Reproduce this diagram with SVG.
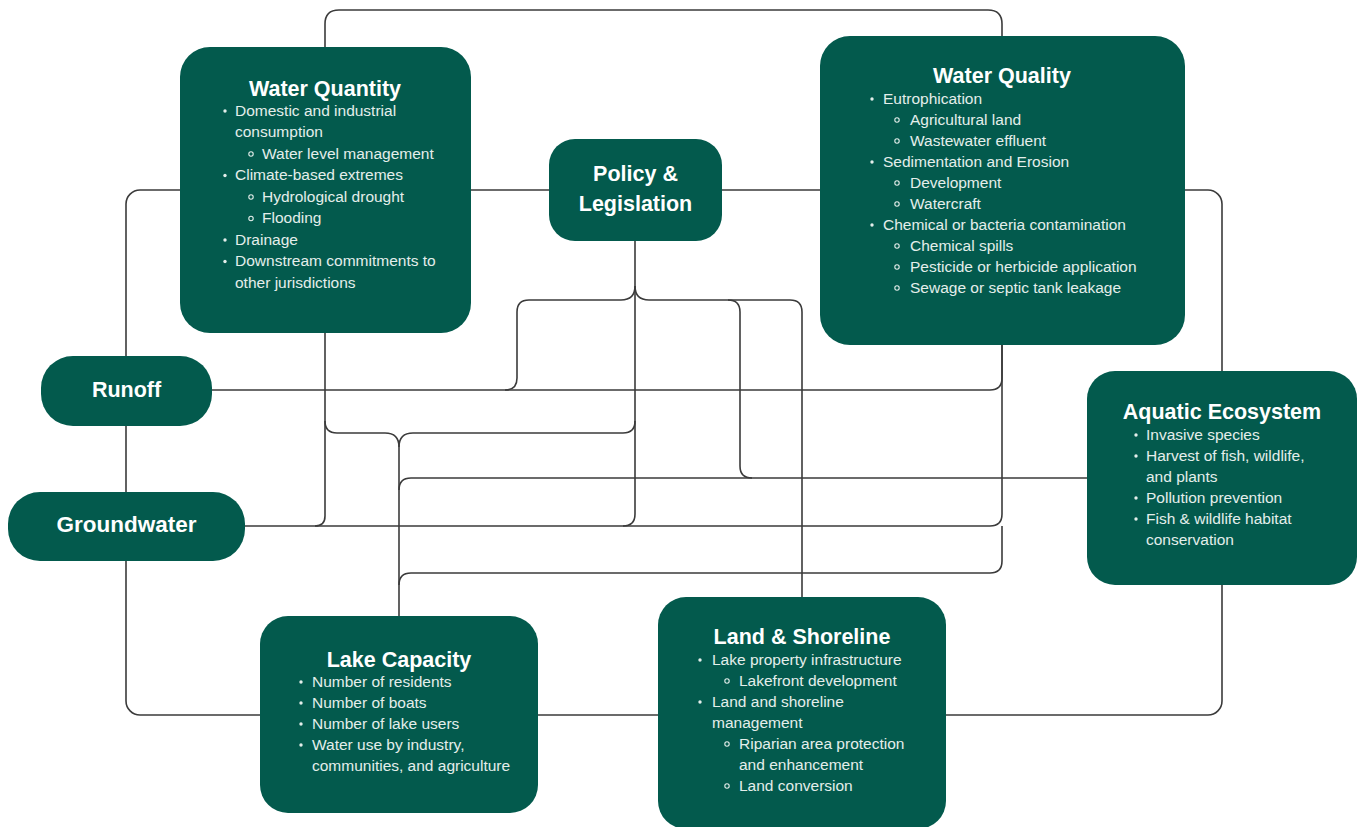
<svg xmlns="http://www.w3.org/2000/svg" width="1359" height="827" viewBox="0 0 1359 827">
  <style>
    .link { fill: none; stroke: #3b3b3b; stroke-width: 1.6; }
    .box { fill: #035a4d; }
    .title { font-family: "Liberation Sans", Arial, sans-serif; font-weight: bold; font-size: 21.5px; fill: #ffffff; text-anchor: middle; }
    .item { font-family: "Liberation Sans", Arial, sans-serif; font-size: 15.5px; fill: #e4eeeb; }
    .dot { fill: #e4eeeb; }
    .ring { fill: none; stroke: #e4eeeb; stroke-width: 1.1; }
  </style>

  <g id="connectors">
    <!-- outer loop: Water Quantity / Policy / Water Quality / Aquatic / Land / Lake / Groundwater / Runoff -->
    <rect class="link" x="126" y="190" width="1096" height="525" rx="14"/>
    <!-- Water Quantity to Water Quality over the top -->
    <path class="link" d="M325,47 V24 Q325,10 339,10 H988 Q1002,10 1002,24 V36"/>
    <!-- Runoff to Water Quality -->
    <path class="link" d="M212,390 H990 Q1002,390 1002,378 V345"/>
    <!-- Groundwater to Water Quality, with taps to Water Quantity and Policy -->
    <path class="link" d="M245,526 H990 Q1002,526 1002,514 V345"/>
    <path class="link" d="M315,526 Q325,526 325,516 V333"/>
    <path class="link" d="M635,241 V514 Q635,526 623,526"/>
    <!-- Policy branches -->
    <path class="link" d="M635,286 Q635,300 621,300 H529 Q517,300 517,312 V378 Q517,390 505,390"/>
    <path class="link" d="M635,286 Q635,300 649,300 H790 Q802,300 802,312 V597"/>
    <path class="link" d="M728,300 Q740,300 740,312 V466 Q740,478 752,478"/>
    <!-- Lake Capacity branches -->
    <path class="link" d="M399,616 V447"/>
    <path class="link" d="M399,447 Q399,433 385,433 H337 Q325,433 325,421"/>
    <path class="link" d="M399,447 Q399,433 413,433 H623 Q635,433 635,421"/>
    <path class="link" d="M399,490 Q399,478 411,478 H1088"/>
    <path class="link" d="M399,585 Q399,573 411,573 H990 Q1002,573 1002,561 V526"/>
  </g>

  <g id="water-quantity">
    <rect class="box" x="180" y="47" width="291" height="286" rx="30"/>
    <text class="title" x="325" y="95.5">Water Quantity</text>
    <circle class="dot" cx="225" cy="111" r="1.7"/>
    <text class="item" x="235" y="115.5">Domestic and industrial</text>
    <text class="item" x="235" y="137">consumption</text>
    <circle class="ring" cx="251" cy="154" r="2.2"/>
    <text class="item" x="262" y="158.5">Water level management</text>
    <circle class="dot" cx="225" cy="175.5" r="1.7"/>
    <text class="item" x="235" y="180">Climate-based extremes</text>
    <circle class="ring" cx="251" cy="197" r="2.2"/>
    <text class="item" x="262" y="201.5">Hydrological drought</text>
    <circle class="ring" cx="251" cy="218.5" r="2.2"/>
    <text class="item" x="262" y="223">Flooding</text>
    <circle class="dot" cx="225" cy="240" r="1.7"/>
    <text class="item" x="235" y="244.5">Drainage</text>
    <circle class="dot" cx="225" cy="261.5" r="1.7"/>
    <text class="item" x="235" y="266">Downstream commitments to</text>
    <text class="item" x="235" y="287.5">other jurisdictions</text>
  </g>

  <g id="policy-legislation">
    <rect class="box" x="549" y="139" width="173" height="102" rx="26"/>
    <text class="title" x="635.5" y="180.5">Policy &amp;</text>
    <text class="title" x="635.5" y="210.5">Legislation</text>
  </g>

  <g id="water-quality">
    <rect class="box" x="820" y="36" width="365" height="309" rx="30"/>
    <text class="title" x="1002" y="82.5">Water Quality</text>
    <circle class="dot" cx="872" cy="99" r="1.7"/>
    <text class="item" x="883" y="103.5">Eutrophication</text>
    <circle class="ring" cx="897" cy="120" r="2.2"/>
    <text class="item" x="910" y="124.5">Agricultural land</text>
    <circle class="ring" cx="897" cy="141" r="2.2"/>
    <text class="item" x="910" y="145.5">Wastewater effluent</text>
    <circle class="dot" cx="872" cy="162" r="1.7"/>
    <text class="item" x="883" y="166.5">Sedimentation and Erosion</text>
    <circle class="ring" cx="897" cy="183" r="2.2"/>
    <text class="item" x="910" y="187.5">Development</text>
    <circle class="ring" cx="897" cy="204" r="2.2"/>
    <text class="item" x="910" y="208.5">Watercraft</text>
    <circle class="dot" cx="872" cy="225" r="1.7"/>
    <text class="item" x="883" y="229.5">Chemical or bacteria contamination</text>
    <circle class="ring" cx="897" cy="246" r="2.2"/>
    <text class="item" x="910" y="250.5">Chemical spills</text>
    <circle class="ring" cx="897" cy="267" r="2.2"/>
    <text class="item" x="910" y="271.5">Pesticide or herbicide application</text>
    <circle class="ring" cx="897" cy="288" r="2.2"/>
    <text class="item" x="910" y="292.5">Sewage or septic tank leakage</text>
  </g>

  <g id="runoff">
    <rect class="box" x="41" y="356" width="171" height="70" rx="32"/>
    <text class="title" x="126.5" y="397">Runoff</text>
  </g>

  <g id="groundwater">
    <rect class="box" x="8" y="492" width="237" height="69" rx="32"/>
    <text class="title" x="126.5" y="532" style="font-size:22.5px">Groundwater</text>
  </g>

  <g id="aquatic-ecosystem">
    <rect class="box" x="1087" y="371" width="270" height="214" rx="28"/>
    <text class="title" x="1222" y="418.5">Aquatic Ecosystem</text>
    <circle class="dot" cx="1136" cy="435" r="1.7"/>
    <text class="item" x="1146" y="439.5">Invasive species</text>
    <circle class="dot" cx="1136" cy="456" r="1.7"/>
    <text class="item" x="1146" y="460.5">Harvest of fish, wildlife,</text>
    <text class="item" x="1146" y="481.5">and plants</text>
    <circle class="dot" cx="1136" cy="498" r="1.7"/>
    <text class="item" x="1146" y="502.5">Pollution prevention</text>
    <circle class="dot" cx="1136" cy="519" r="1.7"/>
    <text class="item" x="1146" y="523.5">Fish &amp; wildlife habitat</text>
    <text class="item" x="1146" y="544.5">conservation</text>
  </g>

  <g id="lake-capacity">
    <rect class="box" x="260" y="616" width="278" height="197" rx="28"/>
    <text class="title" x="399" y="666.5">Lake Capacity</text>
    <circle class="dot" cx="301" cy="682" r="1.7"/>
    <text class="item" x="312" y="686.5">Number of residents</text>
    <circle class="dot" cx="301" cy="703" r="1.7"/>
    <text class="item" x="312" y="707.5">Number of boats</text>
    <circle class="dot" cx="301" cy="724" r="1.7"/>
    <text class="item" x="312" y="728.5">Number of lake users</text>
    <circle class="dot" cx="301" cy="745" r="1.7"/>
    <text class="item" x="312" y="749.5">Water use by industry,</text>
    <text class="item" x="312" y="771">communities, and agriculture</text>
  </g>

  <g id="land-shoreline">
    <rect class="box" x="658" y="597" width="288" height="232" rx="28"/>
    <text class="title" x="802" y="643.5">Land &amp; Shoreline</text>
    <circle class="dot" cx="700" cy="660" r="1.7"/>
    <text class="item" x="712" y="664.5">Lake property infrastructure</text>
    <circle class="ring" cx="727" cy="681" r="2.2"/>
    <text class="item" x="739" y="685.5">Lakefront development</text>
    <circle class="dot" cx="700" cy="702" r="1.7"/>
    <text class="item" x="712" y="706.5">Land and shoreline</text>
    <text class="item" x="712" y="727.5">management</text>
    <circle class="ring" cx="727" cy="744" r="2.2"/>
    <text class="item" x="739" y="748.5">Riparian area protection</text>
    <text class="item" x="739" y="769.5">and enhancement</text>
    <circle class="ring" cx="727" cy="786" r="2.2"/>
    <text class="item" x="739" y="790.5">Land conversion</text>
  </g>
</svg>
